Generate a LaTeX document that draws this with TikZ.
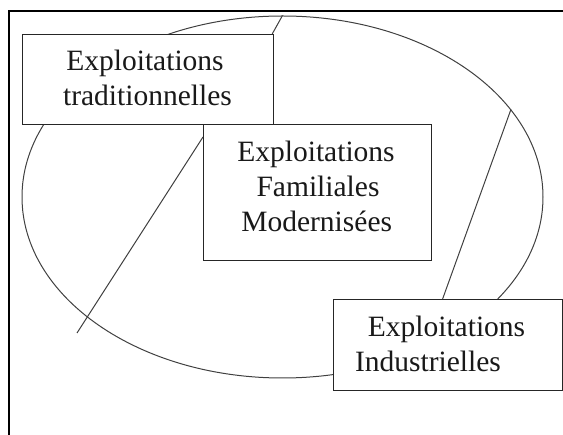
\documentclass[tikz,border=0pt]{standalone}
\usepackage{fontspec}
\setmainfont{Liberation Serif}
\usetikzlibrary{shapes.geometric}
\begin{document}
\begin{tikzpicture}[x=1pt,y=-1pt,
  frame/.style={line width=1.6pt,black},
  boxnode/.style={draw=black!85,line width=1.2pt,fill=white,rectangle,anchor=north west,inner sep=0pt},
  conn/.style={draw=black!75,line width=1pt},
  lbl/.style={anchor=base,inner sep=0pt,font=\fontsize{29.5}{35}\selectfont,text=black!90}]
\useasboundingbox (0,0) rectangle (563,435);
\draw[frame] (9,440) -- (9,11) -- (570,11);
\node[ellipse,draw=black!75,line width=1pt,minimum width=521pt,minimum height=362pt,inner sep=0pt] (ell) at (282.5,197) {};
\node[boxnode,minimum width=251pt,minimum height=90pt] (trad) at (22,34) {};
\node[boxnode,minimum width=228pt,minimum height=136pt] (fam) at (203,124) {};
\node[boxnode,minimum width=229pt,minimum height=91pt] (ind) at (333,299) {};
\coordinate (lowend) at (77,333);
\draw[conn] (ell.north) -- ([xshift=-2pt]trad.north east);
\draw[conn] ([yshift=-13pt]fam.north west) -- (lowend);
\draw[conn] (ell.21) -- ([xshift=-5.5pt]ind.north);
\node[lbl] (trad1) at (145,71) {Exploitations};
\node[lbl] (trad2) at (147.5,106) {traditionnelles};
\node[lbl] (fam1) at (316,161.7) {Exploitations};
\node[lbl] (fam2) at (318,196.7) {Familiales};
\node[lbl] (fam3) at (316.7,231.7) {Modernisées};
\node[lbl] (ind1) at (446.5,336.7) {Exploitations};
\node[lbl] (ind2) at (428,371.7) {Industrielles};
\end{tikzpicture}
\end{document}
